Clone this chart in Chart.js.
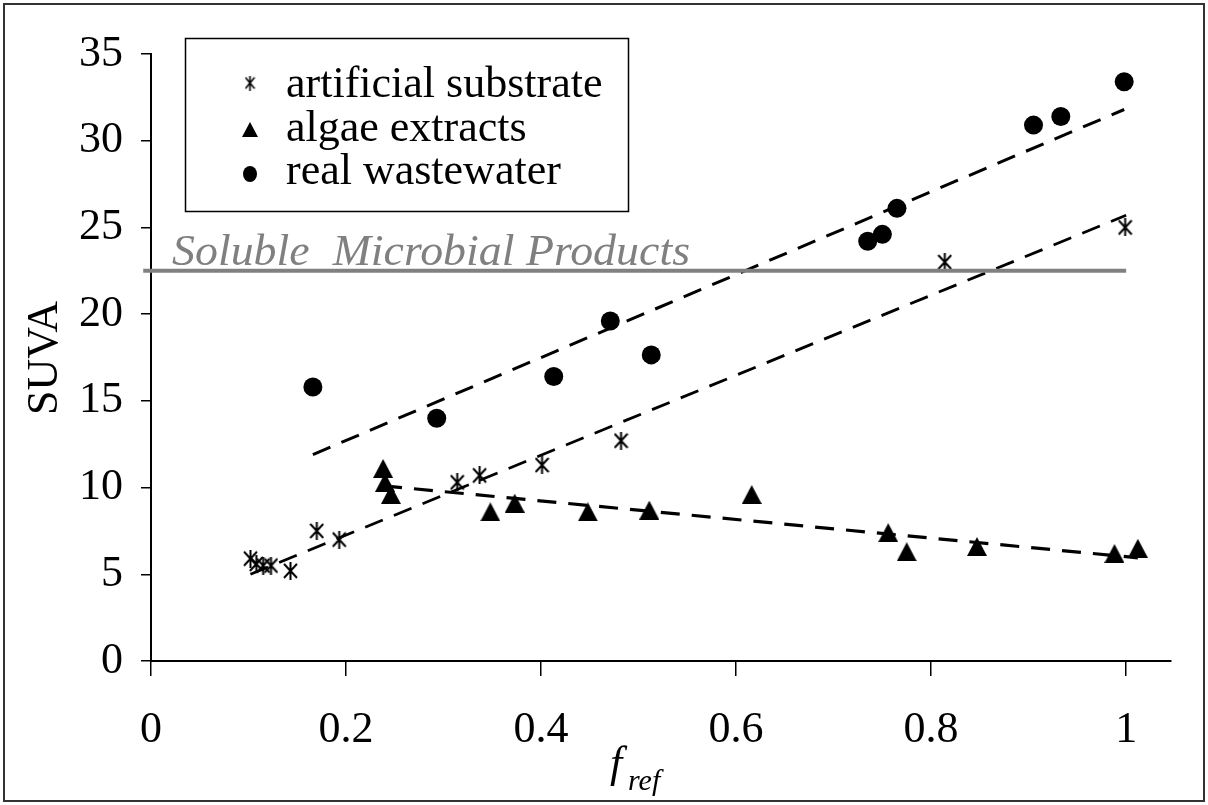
<!DOCTYPE html>
<html>
<head>
<meta charset="utf-8">
<script src="https://cdn.jsdelivr.net/npm/chart.js@4.4.1/dist/chart.umd.min.js"></script>
<style>
  html, body { margin: 0; padding: 0; background: #fff; }
  canvas { display: block; }
</style>
</head>
<body>
<canvas id="suva" width="1208" height="805"></canvas>
<script>
// measured points: f_ref vs SUVA
let substrateX = [0.102, 0.108, 0.115, 0.123, 0.143, 0.170, 0.193, 0.314, 0.337, 0.401, 0.482, 0.814, 0.999];
let substrateY = [5.9, 5.6, 5.5, 5.5, 5.2, 7.5, 7.0, 10.3, 10.7, 11.3, 12.7, 23.0, 25.0];

let algaeX = [0.238, 0.240, 0.246, 0.348, 0.373, 0.448, 0.511, 0.616, 0.756, 0.775, 0.847, 0.988, 1.012];
let algaeY = [11.1, 10.3, 9.6, 8.6, 9.1, 8.6, 8.7, 9.6, 7.4, 6.3, 6.6, 6.2, 6.5];

let wasteX = [0.166, 0.293, 0.413, 0.471, 0.513, 0.735, 0.750, 0.765, 0.905, 0.933, 0.998];
let wasteY = [15.8, 14.0, 16.4, 19.6, 17.65, 24.2, 24.6, 26.1, 30.9, 31.4, 33.4];

/* linear fits (end points) */
let substrateFitX = [0.102, 1.0];
let substrateFitY = [5.0, 25.7];
let algaeFitX = [0.238, 1.012];
let algaeFitY = [10.1, 5.95];
let wasteFitX = [0.166, 0.998];
let wasteFitY = [11.9, 31.8];

/* SMP reference level */
let smpX = [-0.008, 1.0];
let smpY = [22.5, 22.5];

let xTicks = [0, 0.2, 0.4, 0.6, 0.8, 1];
let yTicks = [0, 5, 10, 15, 20, 25, 30, 35];

let seriesNames = ["artificial substrate", "algae extracts", "real wastewater"];
let smpLabel = "Soluble  Microbial Products";

const serif = "'Liberation Serif', 'Times New Roman', serif";

function pts(xs, ys) {
    return xs.map((x, i) => ({ x: x, y: ys[i] }));
}

// excel-like asterisk marker: an x with a vertical bar
function makeAsterisk(w, h, lw) {
    let c = document.createElement("canvas");
    c.width = w;
    c.height = h;
    let g = c.getContext("2d");
    g.strokeStyle = "#000";
    g.lineWidth = lw;
    g.beginPath();
    g.moveTo(1, 2); g.lineTo(w - 1, h - 2);
    g.moveTo(w - 1, 2); g.lineTo(1, h - 2);
    g.moveTo(w / 2, 0); g.lineTo(w / 2, h);
    g.stroke();
    return c;
}

function makeTriangle(w, h) {
    let c = document.createElement("canvas");
    c.width = w;
    c.height = h;
    let g = c.getContext("2d");
    g.fillStyle = "#000";
    g.beginPath();
    g.moveTo(w / 2, 0);
    g.lineTo(w, h);
    g.lineTo(0, h);
    g.closePath();
    g.fill();
    return c;
}

let star = makeAsterisk(15, 18, 2);
let legendStar = makeAsterisk(11, 15, 1.6);
let tri = makeTriangle(20, 19);

function fitLine(xs, ys, width) {
    return {
        type: "line",
        data: pts(xs, ys),
        borderColor: "#000",
        borderWidth: width,
        borderDash: [19, 12],
        pointRadius: 0,
        fill: false
    };
}

const decorations = {
    id: "decorations",
    afterDraw(chart) {
        let ctx = chart.ctx;
        ctx.save();

        // outer frame
        ctx.strokeStyle = "#333";
        ctx.lineWidth = 2;
        ctx.strokeRect(4, 4, 1200, 797);

        // legend box
        ctx.fillStyle = "#fff";
        ctx.fillRect(185, 38, 444, 174);
        ctx.strokeStyle = "#000";
        ctx.lineWidth = 1.5;
        ctx.strokeRect(185.5, 38.5, 443, 173);

        ctx.drawImage(legendStar, 250 - 5.5, 83 - 7.5);

        ctx.fillStyle = "#000";
        ctx.beginPath();
        ctx.moveTo(250, 122);
        ctx.lineTo(258, 137);
        ctx.lineTo(242, 137);
        ctx.closePath();
        ctx.fill();

        ctx.beginPath();
        ctx.ellipse(250, 174, 7, 8, 0, 0, Math.PI * 2);
        ctx.fill();

        ctx.font = "44px " + serif;
        ctx.textBaseline = "alphabetic";
        ctx.textAlign = "left";
        ctx.fillText(seriesNames[0], 286, 97);
        ctx.fillText(seriesNames[1], 286, 141);
        ctx.fillText(seriesNames[2], 286, 184);

        // SMP label
        ctx.fillStyle = "#808080";
        ctx.font = "italic 45px " + serif;
        ctx.save();
        ctx.translate(172, 265);
        ctx.scale(1.02, 1);
        ctx.fillText(smpLabel, 0, 0);
        ctx.restore();

        // y axis title
        ctx.fillStyle = "#000";
        ctx.font = "44px " + serif;
        ctx.save();
        ctx.translate(45, 358);
        ctx.rotate(-Math.PI / 2);
        ctx.textAlign = "center";
        ctx.textBaseline = "middle";
        ctx.fillText("SUVA", 0, 0);
        ctx.restore();

        // x axis title f_ref
        ctx.font = "italic 44px " + serif;
        ctx.fillText("f", 610, 777);
        ctx.font = "italic 30px " + serif;
        ctx.fillText("ref", 628, 790);

        ctx.restore();
    }
};

new Chart(document.getElementById("suva"), {
    type: "scatter",
    data: {
        datasets: [
            {
                type: "line",
                data: pts(smpX, smpY),
                borderColor: "#808080",
                borderWidth: 4,
                pointRadius: 0,
                clip: false
            },
            fitLine(wasteFitX, wasteFitY, 3),
            fitLine(substrateFitX, substrateFitY, 2.8),
            fitLine(algaeFitX, algaeFitY, 3.2),
            {
                label: seriesNames[0],
                data: pts(substrateX, substrateY),
                pointStyle: star,
                pointRadius: 9,
                clip: false
            },
            {
                label: seriesNames[1],
                data: pts(algaeX, algaeY),
                pointStyle: tri,
                pointRadius: 10,
                clip: false
            },
            {
                label: seriesNames[2],
                data: pts(wasteX, wasteY),
                pointStyle: "circle",
                pointRadius: 9.5,
                backgroundColor: "#000",
                borderColor: "#000",
                borderWidth: 0,
                clip: false
            }
        ]
    },
    options: {
        responsive: false,
        animation: false,
        layout: { padding: { left: 0, right: 37, top: 54, bottom: 0 } },
        plugins: {
            legend: { display: false },
            tooltip: { enabled: false }
        },
        scales: {
            x: {
                type: "linear",
                min: 0,
                max: 1.046,
                afterBuildTicks: axis => {
                    axis.ticks = xTicks.map(v => ({ value: v }));
                },
                afterFit: axis => { axis.height = 144; },
                ticks: {
                    color: "#000",
                    font: { family: serif, size: 44 },
                    padding: 28,
                    maxRotation: 0,
                    callback: v => String(+v.toFixed(1))
                },
                grid: {
                    drawOnChartArea: false,
                    color: "#000",
                    lineWidth: 1.5,
                    tickLength: 15
                },
                border: { color: "#000", width: 2 }
            },
            y: {
                min: 0,
                max: 35,
                afterBuildTicks: axis => {
                    axis.ticks = yTicks.map(v => ({ value: v }));
                },
                afterFit: axis => { axis.width = 151; },
                ticks: {
                    color: "#000",
                    font: { family: serif, size: 44 },
                    padding: 18
                },
                grid: {
                    drawOnChartArea: false,
                    color: "#000",
                    lineWidth: 1.5,
                    tickLength: 10
                },
                border: { color: "#000", width: 2 }
            }
        }
    },
    plugins: [decorations]
});
</script>
</body>
</html>
